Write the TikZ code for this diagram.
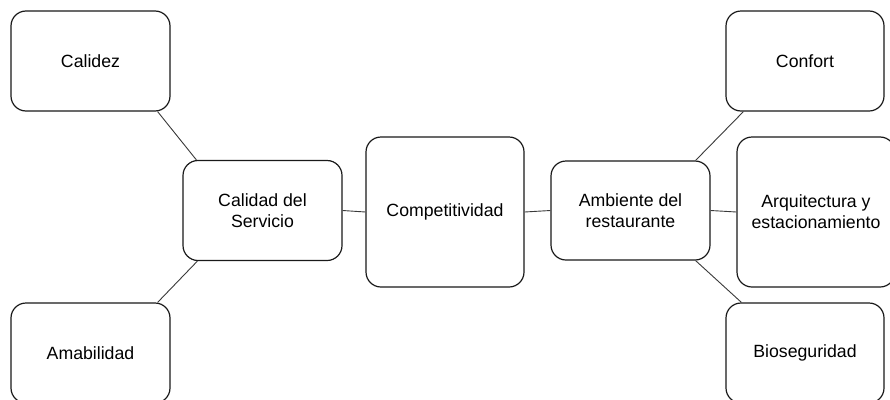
\documentclass[tikz,border=0pt]{standalone}
\usepackage{fontspec}
\setmainfont{Liberation Sans}
\usetikzlibrary{calc}
\definecolor{boxline}{HTML}{1A1A1A}
\definecolor{conline}{HTML}{3A3A3A}
\tikzset{
  box/.style={draw=boxline, line width=1.2pt, rounded corners=15pt, rectangle,
    minimum width=159pt, minimum height=100pt, inner sep=0pt, align=center,
    font=\fontsize{17.7}{21}\selectfont, text=black},
  tallbox/.style={box, minimum width=158pt, minimum height=150pt},
  conn/.style={draw=conline, line width=0.9pt}
}
\begin{document}
\begin{tikzpicture}[x=1pt,y=-1pt]
\useasboundingbox (0,0) rectangle (890,399);
\clip (0,0) rectangle (890,399);
\fill[white] (0,0) rectangle (890,399);
\node[box] (calidez) at (90.5,61) {Calidez};
\node[box] (calidad) at (262.5,210.5) {Calidad del\\Servicio};
\node[box] (amab) at (90.5,353) {Amabilidad};
\node[tallbox] (comp) at (445,212) {Competitividad};
\node[box, minimum height=99pt] (amb) at (630.5,210.5) {Ambiente del\\restaurante};
\node[box, minimum width=158pt] (confort) at (805,61) {Confort};
\node[tallbox] (arq) at (816,212) {Arquitectura y\\estacionamiento};
\node[box, minimum width=158pt] (bio) at (805,353) {Bioseguridad};
\draw[conn] ($(calidez.south east)+(-13,0)$) -- ($(calidad.north west)+(14,0)$);
\draw[conn] ($(amab.north east)+(-13,0)$) -- ($(calidad.south west)+(15,0)$);
\draw[conn] (calidad.east) -- (comp.west);
\draw[conn] (comp.east) -- (amb.west);
\draw[conn] (amb.east) -- (arq.west);
\draw[conn] ($(amb.north east)+(-15,0)$) -- ($(confort.south west)+(18,0)$);
\draw[conn] ($(amb.south east)+(-15,0)$) -- ($(bio.north west)+(16,0)$);
\end{tikzpicture}
\end{document}
